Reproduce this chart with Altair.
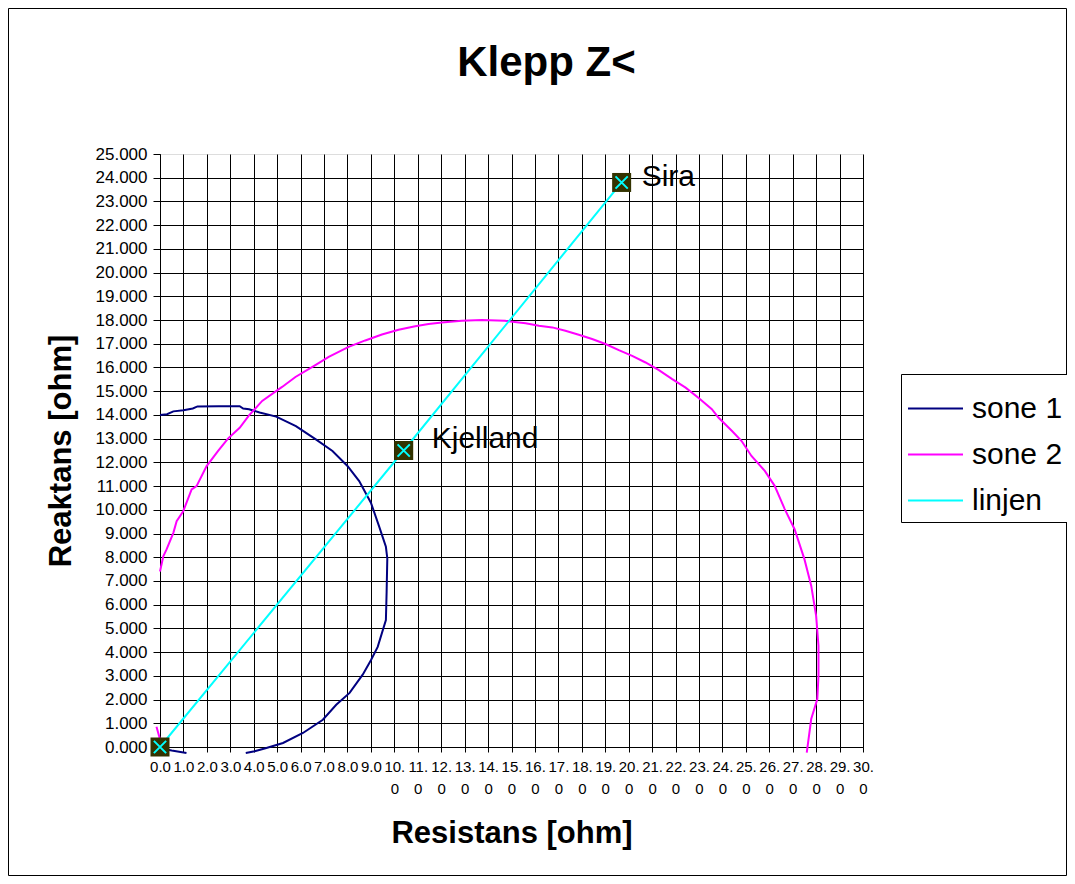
import altair as alt
import pandas as pd

title_text = "Klepp Z<"
x_title = "Resistans [ohm]"
y_title = "Reaktans [ohm]"
series_names = ["sone 1", "sone 2", "linjen"]
series_colors = ["#000080", "#FF00FF", "#00FFFF"]

sone1_x = [0.0, 0.3, 0.57, 1.0, 1.4, 1.6, 2.5, 3.4, 3.55, 3.8, 4.25, 4.96, 5.8, 6.65,
           7.36, 8.0, 8.5, 9.0, 9.35, 9.64, 9.7, 9.67, 9.64, 9.29, 9.0, 8.65, 8.09,
           7.52, 6.95, 6.1, 5.25, 4.54, 4.04, 3.66]
sone1_y = [14.0, 14.03, 14.15, 14.2, 14.27, 14.36, 14.37, 14.37, 14.27, 14.24, 14.1,
           13.93, 13.53, 12.97, 12.48, 11.85, 11.21, 10.3, 9.3, 8.44, 7.95, 6.5, 5.35,
           4.22, 3.66, 3.05, 2.28, 1.78, 1.15, 0.59, 0.17, -0.04, -0.18, -0.25]
sone1_stub_x = [0.0, 0.5, 1.13]
sone1_stub_y = [-0.05, -0.15, -0.25]

sone2_x = [0.0, 0.14, 0.28, 0.57, 0.71, 0.99, 1.35, 1.56, 1.99, 2.48, 2.9, 3.4, 3.79,
           4.36, 5.21, 5.78, 6.63, 7.2, 8.05, 8.76, 9.47, 10.18, 10.89, 11.46, 12.03,
           12.88, 13.73, 14.72, 15.6, 16.17, 16.74, 17.3, 17.87, 18.44, 19.01, 19.58,
           20.15, 20.72, 21.29, 21.86, 22.43, 23.0, 23.55, 23.83, 24.4, 24.82, 25.24,
           25.81, 26.23, 26.66, 27.08, 27.5, 27.79, 28.0, 28.1, 28.1, 28.05, 27.79, 27.6]
sone2_y = [7.4, 8.04, 8.33, 9.03, 9.52, 9.94, 10.86, 11.0, 11.84, 12.48, 13.0, 13.46,
           13.97, 14.59, 15.18, 15.6, 16.1, 16.45, 16.87, 17.14, 17.39, 17.59, 17.74,
           17.83, 17.9, 17.97, 18.0, 17.97, 17.86, 17.76, 17.69, 17.55, 17.38, 17.2,
           16.99, 16.73, 16.49, 16.21, 15.89, 15.51, 15.15, 14.7, 14.24, 13.89, 13.33,
           12.9, 12.27, 11.64, 11.01, 10.03, 9.18, 7.92, 6.8, 5.53, 4.27, 3.0, 2.02,
           1.18, -0.24]
sone2_stub_x = [-0.15, 0.05]
sone2_stub_y = [0.85, 0.15]

linjen_x = [0.0, 10.4, 19.7]
linjen_y = [0.0, 12.5, 23.8]
linjen_labels = ["", "Kjelland", "Sira"]

x_ticks = list(range(0, 31))
y_ticks = list(range(0, 26))

FONT = "Liberation Sans"

rows = []
def add(name, seg, xs, ys):
    for i, (a, b) in enumerate(zip(xs, ys)):
        rows.append({"serie": name, "seg": seg, "idx": i, "x": a, "y": b})

add("sone 1", "s1a", sone1_x, sone1_y)
add("sone 1", "s1b", sone1_stub_x, sone1_stub_y)
add("sone 2", "s2a", sone2_x, sone2_y)
add("sone 2", "s2b", sone2_stub_x, sone2_stub_y)
add("linjen", "l", linjen_x, linjen_y)
lines_df = pd.DataFrame(rows)

pts_df = pd.DataFrame({"x": linjen_x, "y": linjen_y, "label": linjen_labels})

xs = alt.Scale(domain=[0, 30], nice=False, zero=False)
ys = alt.Scale(domain=[0, 25], nice=False, zero=False)

x_axis = alt.Axis(
    values=x_ticks,
    labelExpr="datum.value >= 10 ? [format(datum.value, '.0f') + '.', '0'] : format(datum.value, '.1f')",
    labelFontSize=15, labelFont=FONT, labelLineHeight=22, labelPadding=7,
    labelAngle=0, labelFlush=False, labelOverlap=False, labelColor="black",
    tickSize=5, tickColor="black", domainColor="black",
    grid=True, gridColor="black", gridOpacity=1, gridWidth=1,
    title=x_title, titleFontSize=31, titleFont=FONT, titleFontWeight="bold",
    titleColor="black", titlePadding=22,
)
y_axis = alt.Axis(
    values=y_ticks, format=".3f",
    labelFontSize=17, labelFont=FONT, labelPadding=6, labelColor="black",
    labelFlush=False, labelOverlap=False,
    tickSize=7, tickColor="black", domainColor="black",
    grid=True, gridColor="black", gridWidth=1,
    gridOpacity={"condition": {"test": "datum.value == 25", "value": 0}, "value": 1},
    title=y_title, titleFontSize=31, titleFont=FONT, titleFontWeight="bold",
    titleColor="black", titlePadding=18,
)

X = alt.X("x:Q", scale=xs, axis=x_axis)
Y = alt.Y("y:Q", scale=ys, axis=y_axis)

lines = alt.Chart(lines_df).mark_line(strokeWidth=2).encode(
    x=X, y=Y,
    color=alt.Color(
        "serie:N",
        scale=alt.Scale(domain=series_names, range=series_colors),
        legend=alt.Legend(
            title=None, orient="none", legendX=741, legendY=220,
            symbolType="stroke", symbolSize=3025, symbolStrokeWidth=2,
            labelFontSize=30, labelFont=FONT, labelColor="black", labelOffset=8,
            rowPadding=2, padding=6, strokeColor="black", fillColor="white",
            labelLimit=300,
        ),
    ),
    detail="seg:N",
    order="idx:Q",
)

squares = alt.Chart(pts_df).mark_point(
    shape="square", filled=True, fill="#333300", size=361, opacity=1, strokeWidth=0
).encode(x=X, y=Y)

crosses = alt.Chart(pts_df).mark_point(
    shape="M-1,-1L1,1M-1,1L1,-1", filled=False, stroke="#00FFFF", strokeWidth=2,
    size=150, opacity=1
).encode(x=X, y=Y)

lab_sira = alt.Chart(pts_df).transform_filter("datum.label == 'Sira'").mark_text(
    align="left", baseline="middle", dx=20, dy=-5, fontSize=30, font=FONT, color="black"
).encode(x=X, y=Y, text="label:N")

lab_kj = alt.Chart(pts_df).transform_filter("datum.label == 'Kjelland'").mark_text(
    align="left", baseline="middle", dx=28, dy=-12, fontSize=30, font=FONT, color="black"
).encode(x=X, y=Y, text="label:N")

one = pd.DataFrame({"k": [0]})
leg_sq = alt.Chart(one).mark_point(
    shape="square", filled=True, fill="#333300", size=361, opacity=1, strokeWidth=0
).encode(x=alt.value(778), y=alt.value(344))
leg_x = alt.Chart(one).mark_point(
    shape="M-1,-1L1,1M-1,1L1,-1", filled=False, stroke="#00FFFF", strokeWidth=2,
    size=150, opacity=1
).encode(x=alt.value(778), y=alt.value(344))

frame = alt.Chart(one).mark_rect(fill=None, stroke="black", strokeWidth=1).encode(
    x=alt.value(-151.5), x2=alt.value(906.5), y=alt.value(-145.5), y2=alt.value(721.5)
)

chart = alt.layer(
    frame, lines, squares, crosses, lab_sira, lab_kj, leg_sq, leg_x
).properties(
    width=703, height=593,
    title=alt.TitleParams(
        text=title_text, fontSize=42, font=FONT, fontWeight="bold", color="black",
        anchor="middle", frame="group", dx=35, offset=-110, baseline="alphabetic",
    ),
    autosize=alt.AutoSizeParams(type="none"),
    padding={"left": 152, "top": 146, "right": 204, "bottom": 129},
).configure_view(stroke=None).configure(background="white")

chart.save("out.html", embed_options={"renderer": "svg", "actions": False})
